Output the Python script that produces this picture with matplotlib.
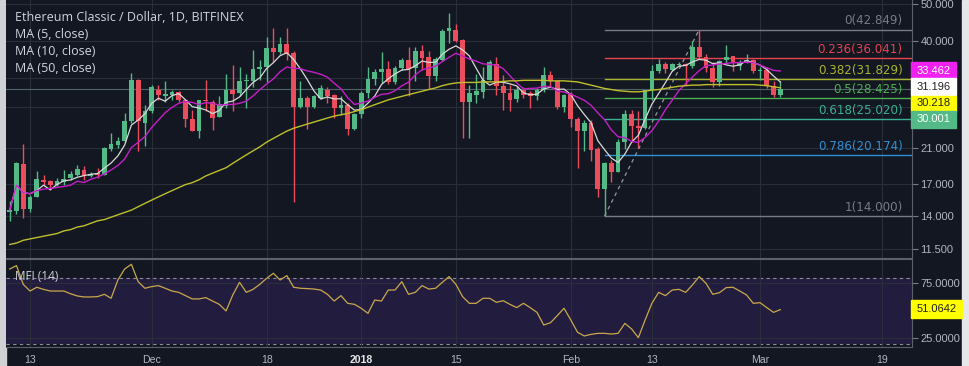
import numpy as np
import pandas as pd
import matplotlib
matplotlib.use("Agg")
import matplotlib.pyplot as plt
from matplotlib.patches import Rectangle

# -------------------------------------------------------------------------------------------------- #
# Data (ETC/USD daily, Bitfinex)

dates = pd.date_range("2017-11-10", "2018-03-04", freq="D")

opens = [14.3, 14.4, 19.1, 14.6, 15.7, 17.4, 17.3, 16.9, 17.2, 17.6,
         17.9, 18.5, 17.8, 18.1, 17.9, 20.9, 21.4, 22.0, 24.7, 31.6,
         24.5, 26.3, 29.9, 28.8, 29.0, 29.5, 28.1, 25.0, 23.3, 28.0,
         27.8, 25.4, 27.1, 29.9, 29.2, 31.5, 31.4, 33.9, 34.3, 38.3,
         37.5, 39.4, 37.3, 27.0, 28.5, 27.0, 28.4, 29.9, 29.0, 26.8,
         27.3, 23.6, 25.8, 29.2, 31.8, 33.2, 33.9, 31.2, 34.0, 35.7,
         34.0, 37.6, 36.4, 32.4, 35.8, 42.6, 42.7, 40.2, 27.8, 29.0,
         29.4, 31.7, 34.9, 30.5, 29.2, 28.2, 29.9, 29.3, 28.7, 29.9,
         32.7, 31.4, 27.0, 29.1, 25.1, 23.3, 24.4, 20.9, 16.5, 19.2,
         18.2, 21.8, 25.8, 24.0, 23.8, 29.8, 33.5, 34.8, 33.7, 34.6,
         34.9, 34.4, 38.6, 36.4, 34.0, 31.2, 35.8, 36.5, 34.4, 35.3,
         35.6, 33.4, 33.7, 30.5, 28.9]
highs = [15.3, 19.4, 21.6, 15.9, 18.3, 17.9, 17.4, 17.6, 18.4, 18.3,
         19.0, 18.9, 18.2, 18.7, 21.2, 23.0, 22.5, 26.0, 33.1, 31.9,
         27.3, 30.7, 30.7, 31.4, 29.8, 29.7, 28.3, 26.5, 28.1, 31.6,
         28.1, 28.7, 32.8, 34.7, 34.3, 32.8, 38.0, 35.8, 41.1, 43.2,
         41.1, 43.2, 37.7, 31.4, 28.7, 29.0, 30.7, 30.3, 29.1, 28.7,
         27.5, 26.0, 29.6, 34.2, 33.8, 37.5, 35.4, 34.4, 36.2, 38.7,
         38.7, 39.1, 37.7, 36.3, 42.9, 47.3, 44.2, 40.4, 30.7, 32.8,
         34.2, 35.7, 36.3, 32.7, 30.7, 30.5, 30.4, 29.6, 30.1, 34.2,
         33.4, 31.6, 29.1, 29.4, 25.4, 24.9, 24.9, 21.2, 19.4, 19.6,
         22.2, 26.5, 26.4, 26.3, 29.9, 34.7, 36.0, 35.3, 35.1, 35.3,
         35.0, 39.9, 42.849, 37.1, 35.3, 35.7, 39.1, 36.6, 35.8, 37.1,
         36.0, 34.3, 34.3, 31.4, 31.4]
lows = [13.6, 14.2, 13.8, 14.3, 15.7, 16.8, 16.4, 16.8, 16.9, 17.4,
        17.8, 17.4, 17.7, 17.6, 17.9, 20.7, 21.1, 21.8, 24.5, 20.7,
        21.3, 26.0, 28.1, 27.8, 28.1, 27.8, 23.9, 23.3, 22.4, 26.3,
        23.4, 25.3, 26.8, 26.3, 28.7, 26.7, 30.3, 31.6, 31.3, 35.2,
        37.1, 35.7, 15.2, 26.8, 23.6, 26.7, 28.2, 27.6, 25.2, 25.7,
        22.8, 23.5, 25.2, 28.4, 30.7, 31.1, 30.9, 30.9, 33.7, 28.7,
        31.4, 33.7, 30.0, 31.4, 35.5, 39.6, 39.8, 22.4, 22.3, 27.6,
        28.4, 31.6, 29.0, 26.5, 26.3, 27.8, 28.4, 26.7, 28.0, 29.5,
        30.5, 26.6, 26.2, 23.9, 18.7, 20.7, 19.5, 15.7, 14.0, 17.2,
        18.2, 20.9, 21.8, 21.0, 23.6, 28.1, 33.0, 33.0, 33.4, 34.4,
        30.7, 34.1, 36.2, 33.3, 30.3, 30.5, 35.1, 33.4, 33.6, 35.0,
        33.1, 31.6, 30.2, 28.6, 28.6]
closes = [14.5, 19.2, 14.6, 15.7, 17.5, 17.2, 16.9, 17.3, 17.5, 18.0,
          18.6, 17.8, 18.0, 17.9, 21.0, 21.5, 22.0, 24.7, 31.6, 24.7,
          26.3, 30.3, 29.0, 29.1, 29.4, 28.1, 25.0, 23.3, 28.0, 27.9,
          25.2, 27.4, 29.9, 29.1, 31.4, 31.7, 33.9, 34.3, 38.3, 37.4,
          39.3, 37.1, 27.0, 28.5, 27.0, 28.7, 30.1, 28.7, 26.8, 27.2,
          23.6, 25.8, 29.3, 31.9, 33.2, 33.9, 31.2, 34.0, 35.7, 33.9,
          37.6, 36.2, 32.5, 35.9, 42.6, 43.2, 40.1, 27.8, 29.2, 29.6,
          31.7, 35.2, 30.5, 29.2, 28.1, 29.8, 29.0, 28.7, 29.8, 32.7,
          31.4, 27.0, 29.0, 25.0, 23.3, 24.4, 20.8, 16.5, 19.2, 18.2,
          21.8, 25.8, 24.0, 23.8, 29.8, 33.5, 34.9, 33.8, 34.8, 34.9,
          34.4, 38.6, 36.4, 34.0, 31.2, 35.4, 36.3, 35.1, 35.3, 35.7,
          33.4, 33.6, 30.5, 28.9, 30.001]

# MA(50) line (its window reaches back before the first candle shown)
ma50 = [11.8, 11.9, 12.1, 12.2, 12.3, 12.4, 12.5, 12.6, 12.8, 12.9,
        13.1, 13.2, 13.4, 13.6, 13.7, 13.9, 14.1, 14.3, 14.5, 14.8,
        15.1, 15.4, 15.7, 16.0, 16.3, 16.6, 16.9, 17.1, 17.4, 17.8,
        18.1, 18.4, 18.7, 19.2, 19.7, 20.2, 20.7, 21.2, 21.8, 22.3,
        22.8, 23.3, 23.7, 24.0, 24.3, 24.6, 24.9, 25.2, 25.5, 25.7,
        25.9, 26.2, 26.5, 26.9, 27.3, 27.7, 28.1, 28.4, 28.7, 29.0,
        29.3, 29.6, 29.9, 30.2, 30.6, 30.9, 31.1, 31.2, 31.2, 31.2,
        31.3, 31.3, 31.3, 31.4, 31.5, 31.5, 31.6, 31.6, 31.6, 31.6,
        31.5, 31.5, 31.5, 31.4, 31.3, 31.0, 30.7, 30.4, 30.1, 29.9,
        29.7, 29.6, 29.5, 29.5, 29.6, 29.8, 29.9, 30.1, 30.3, 30.5,
        30.6, 30.7, 30.7, 30.8, 30.8, 30.8, 30.8, 30.8, 30.8, 30.8,
        30.8, 30.7, 30.6, 30.4, 30.218]

mfi = [88.0, 91.1, 74.1, 68.0, 71.4, 69.5, 68.0, 68.0, 68.0, 65.5,
       63.5, 62.6, 62.6, 62.9, 65.0, 61.4, 78.0, 88.0, 92.3, 76.5,
       70.5, 72.0, 72.9, 70.5, 68.0, 66.8, 63.8, 60.8, 60.8, 62.0,
       58.9, 55.9, 49.9, 64.4, 75.9, 66.8, 69.5, 74.1, 79.5, 84.1,
       78.0, 82.0, 71.4, 70.5, 70.2, 69.8, 68.9, 65.0, 58.9, 63.8,
       56.8, 55.9, 52.3, 47.7, 59.8, 58.9, 68.9, 68.9, 76.5, 65.0,
       66.8, 72.9, 69.8, 70.5, 75.9, 81.1, 74.1, 62.9, 56.8, 56.8,
       61.4, 61.4, 57.7, 59.2, 55.9, 52.9, 56.8, 52.9, 48.6, 37.1,
       39.2, 45.6, 52.3, 41.7, 30.5, 27.1, 28.6, 29.5, 29.5, 28.9,
       29.5, 38.6, 33.5, 25.6, 41.7, 56.8, 66.8, 63.8, 68.9, 69.5,
       66.8, 73.5, 81.1, 75.0, 65.0, 66.5, 71.1, 71.4, 68.0, 64.4,
       56.8, 57.4, 52.9, 48.6, 51.0642]

# Fibonacci retracement between the Feb 6 low and the Feb 20 high
fib_start = "2018-02-06"
fib_end = "2018-02-20"
fib_ratios = ["0", "0.236", "0.382", "0.5", "0.618", "0.786", "1"]
fib_values = [42.849, 36.041, 31.829, 28.425, 25.020, 20.174, 14.000]
fib_colors = ["#787b86", "#e8414f", "#a9b32e", "#4caf50", "#3aaf94", "#2f8fd3", "#787b86"]

# Last values shown in the tags on the price scale: MA10, MA5, MA50, close
tag_values = [33.462, 31.196, 30.218, 30.001]
tag_colors = ["#f020f0", "#ffffff", "#ffff00", "#53b987"]
tag_text_colors = ["#ffffff", "#222222", "#222222", "#ffffff"]

price_ticks = [11.5, 14, 17, 21, 27, 32, 40, 50]
price_labels = ["11.500", "14.000", "17.000", "21.000", "", "", "40.000", "50.000"]  # 27/32 sit under the tags
mfi_ticks = [25, 75]
tick_dates = ["2017-11-13", "2017-12-01", "2017-12-18", "2018-01-01", "2018-01-15",
              "2018-02-01", "2018-02-13", "2018-03-01", "2018-03-19"]
tick_labels = ["13", "Dec", "18", "2018", "15", "Feb", "13", "Mar", "19"]

# -------------------------------------------------------------------------------------------------- #

BG = "#131722"
GRID = "#2a2e39"
TXT = "#b2b5be"
UP = "#53b987"
DOWN = "#eb4d5c"
W, H = 969, 366

df = pd.DataFrame({"open": opens, "high": highs, "low": lows, "close": closes}, index=dates)
df["ma5"] = df["close"].rolling(5, min_periods=1).mean()
df["ma10"] = df["close"].rolling(10, min_periods=1).mean()
x = np.arange(len(df))


def day_index(d):
    return (pd.Timestamp(d) - dates[0]).days


xt = [day_index(d) for d in tick_dates]
xlim = (-0.55, 133.48)

fig = plt.figure(figsize=(W / 100, H / 100), dpi=100, facecolor=BG)
ax = fig.add_axes([6 / W, 108 / H, 906 / W, 258 / H], facecolor=BG)
ax2 = fig.add_axes([6 / W, 19 / H, 906 / W, 88 / H], facecolor=BG)

# light screenshot borders
fig.add_artist(Rectangle((0, 0), 6 / W, 1, transform=fig.transFigure, color="#cfd1d4", zorder=0))
fig.add_artist(Rectangle((962 / W, 0), 7 / W, 1, transform=fig.transFigure, color="#e6e7e9", zorder=0))

# ---- price pane
ax.set_yscale("log")
ax.set_xlim(*xlim)
ax.set_ylim(10.88, 51.17)

up = df["close"] >= df["open"]
cols = np.where(up, UP, DOWN)
body_lo = np.minimum(df["open"], df["close"])
body_hi = np.maximum(df["open"], df["close"])
body_hi = np.maximum(body_hi, body_lo * 1.004)
ax.vlines(x, df["low"], df["high"], colors=cols, lw=1.0, zorder=3)
ax.bar(x, body_hi - body_lo, bottom=body_lo, width=0.7, color=cols, lw=0, zorder=4)

ax.plot(x, df["ma5"], color="#d8d8d8", lw=0.9, zorder=5)
ax.plot(x, df["ma10"], color="#c41fc8", lw=1.0, zorder=5)
ax.plot(x, ma50, color="#bfbf2c", lw=1.0, zorder=5)

# last price line
ax.axhline(closes[-1], color="#4f6468", lw=0.8, zorder=2)

# fibonacci
fs, fe = day_index(fib_start), day_index(fib_end)
for ratio, val, c in zip(fib_ratios, fib_values, fib_colors):
    ax.plot([fs, xlim[1]], [val, val], color=c, lw=1.0, zorder=2)
    ax.annotate(f"{ratio}({val:.3f})", xy=(132.1, val), xytext=(0, 1.5), textcoords="offset points",
                ha="right", va="bottom", color=c, fontsize=8.6, family="DejaVu Sans", zorder=6)
ax.plot([fs, fe], [fib_values[-1], fib_values[0]], color="#9598a1", lw=0.9, ls=(0, (3, 3)), zorder=2)

ax.set_xticks(xt)
ax.set_xticklabels([])
ax.tick_params(axis="x", length=0)
ax.yaxis.tick_right()
ax.set_yticks(price_ticks)
ax.set_yticklabels(price_labels)
ax.yaxis.set_minor_locator(matplotlib.ticker.NullLocator())
ax.tick_params(axis="y", which="major", length=4, width=0.8, color="#787b86", labelcolor=TXT,
               labelsize=8, pad=2)
for lab in ax.get_yticklabels():
    lab.set_family("Liberation Sans")
ax.grid(True, color=GRID, lw=0.8, zorder=0)
for s in ["top", "left"]:
    ax.spines[s].set_visible(False)
ax.spines["right"].set_color("#5d606b")
ax.spines["bottom"].set_color("#5d606b")

# legend text
txt_kw = dict(color="#d1d4dc", fontsize=9, family="Open Sans", va="baseline")
fig.text(15 / W, 1 - 21 / H, "Ethereum Classic / Dollar, 1D, BITFINEX", **txt_kw)
fig.text(15 / W, 1 - 38 / H, "MA (5, close)", **txt_kw)
fig.text(15 / W, 1 - 55 / H, "MA (10, close)", **txt_kw)
fig.text(15 / W, 1 - 72 / H, "MA (50, close)", **txt_kw)

# ---- MFI pane
ax2.set_xlim(*xlim)
ax2.set_ylim(17.1, 97.1)
ax2.axhspan(20, 80, color="#221c3f", lw=0, zorder=0)
ax2.axhline(80, color="#8a8d96", lw=0.8, ls=(0, (3, 3)), zorder=1)
ax2.axhline(20, color="#8a8d96", lw=0.8, ls=(0, (3, 3)), zorder=1)
ax2.plot(x, mfi, color="#c9a94a", lw=0.9, zorder=3)
ax2.set_xticks(xt)
ax2.set_xticklabels(tick_labels)
ax2.tick_params(axis="x", length=0, pad=6, labelcolor=TXT, labelsize=7.6)
for lab in ax2.get_xticklabels():
    lab.set_family("Liberation Sans")
    if lab.get_text() == "2018":
        lab.set_fontweight("bold")
        lab.set_color("#e8e8e8")
ax2.yaxis.tick_right()
ax2.set_yticks(mfi_ticks)
ax2.set_yticklabels([f"{v:.4f}" for v in mfi_ticks])
ax2.tick_params(axis="y", length=4, width=0.8, color="#787b86", labelcolor=TXT, labelsize=8, pad=2)
for lab in ax2.get_yticklabels():
    lab.set_family("Liberation Sans")
ax2.grid(True, color=GRID, lw=0.8, zorder=0)
ax2.spines["left"].set_visible(False)
for s in ["top", "right", "bottom"]:
    ax2.spines[s].set_color("#5d606b")
fig.text(15 / W, 1 - 280 / H, "MFI (14)", color="#d1d4dc", fontsize=8.5, family="Open Sans", va="baseline")

# ---- value tags on the price scale
tag_centres = [70.5, 86.5, 103.5, 119.5]
for val, yc, bg, tc in zip(tag_values, tag_centres, tag_colors, tag_text_colors):
    fig.add_artist(Rectangle((911 / W, 1 - (yc + 8) / H), 45 / W, 16 / H, transform=fig.transFigure,
                             color=bg, zorder=5))
    fig.text(917 / W, 1 - yc / H, f"{val:.3f}", color=tc, fontsize=8, family="Liberation Sans",
             va="center", zorder=6)

yc = 309
fig.add_artist(Rectangle((911 / W, 1 - (yc + 9) / H), 51 / W, 18 / H, transform=fig.transFigure,
                         color="#ffff00", zorder=5))
fig.text(917 / W, 1 - yc / H, f"{mfi[-1]:.4f}", color="#222222", fontsize=8, family="Liberation Sans",
         va="center", zorder=6)

fig.savefig("out.png", dpi=100, facecolor=BG)
